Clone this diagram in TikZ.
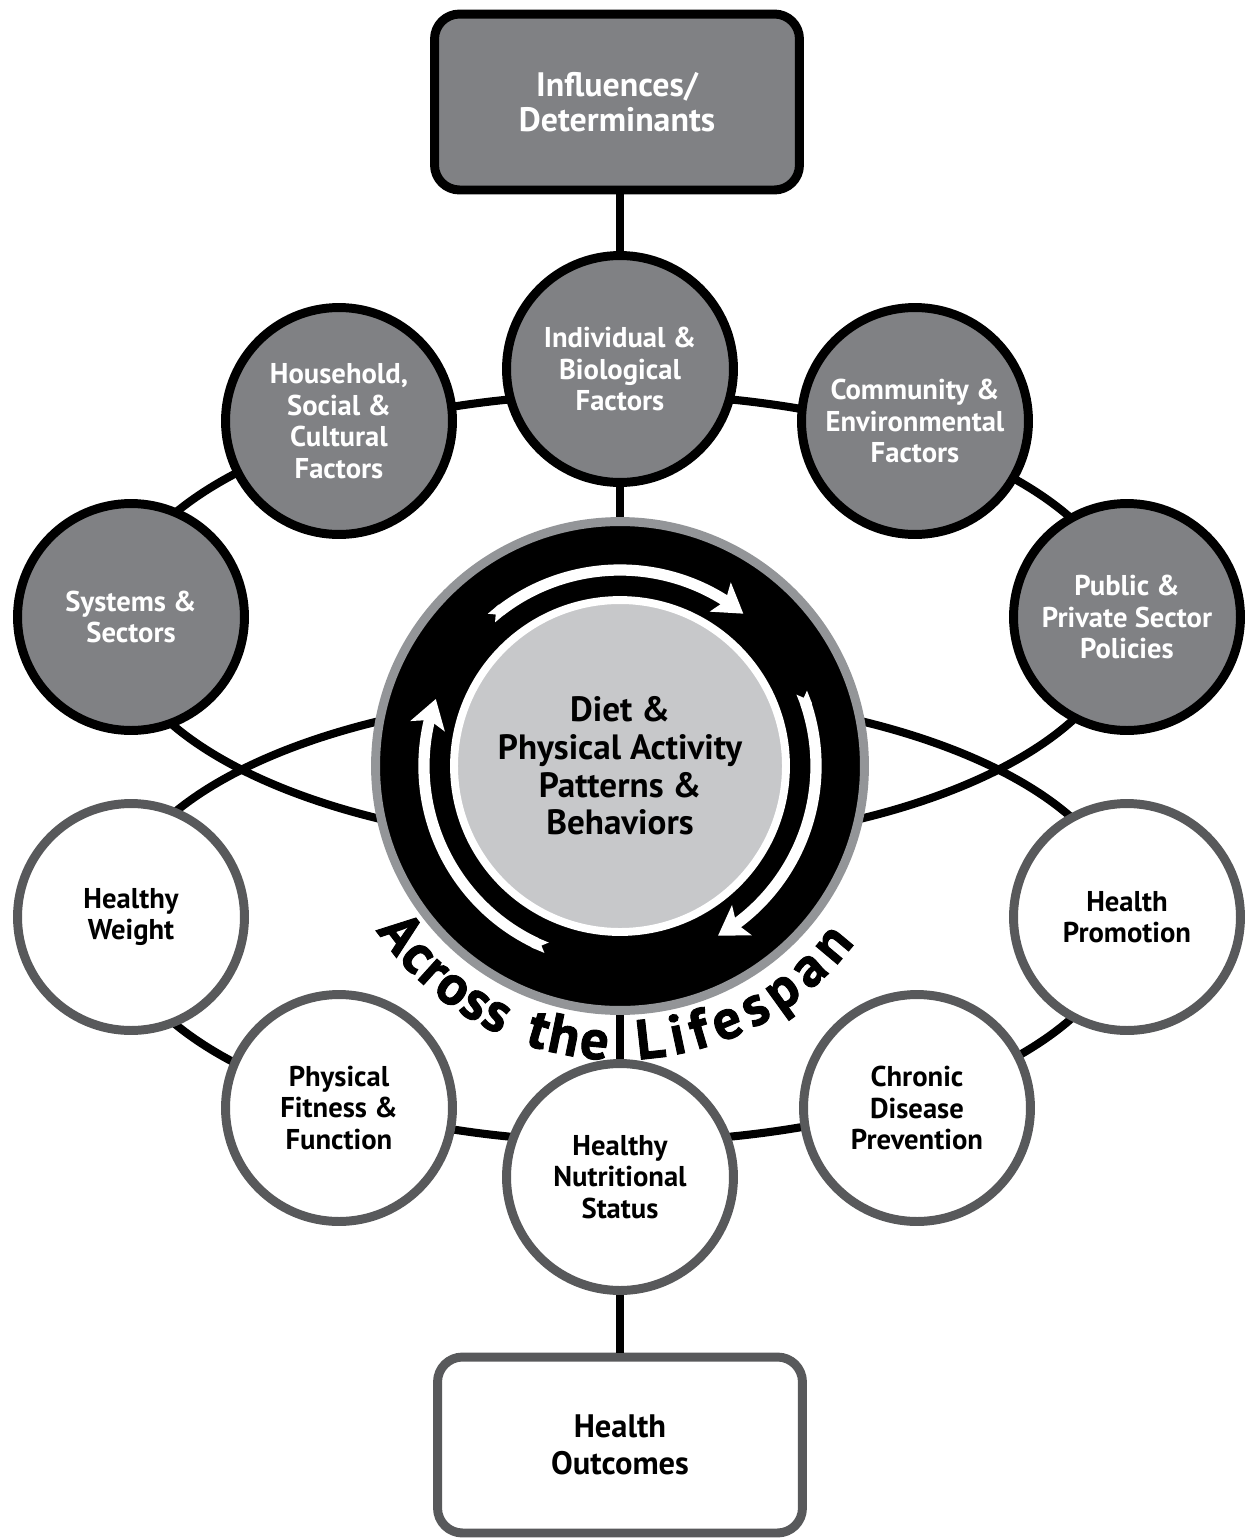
\documentclass[tikz,border=0pt]{standalone}
\usepackage{fontspec}
\setmainfont{PT Sans}
\newfontfamily\spanfamily{PT Sans}[BoldFeatures={FakeBold=1.6}]
\usetikzlibrary{arrows.meta,bending,backgrounds,decorations.text}
\definecolor{factorgray}{HTML}{808184}
\definecolor{ringgray}{HTML}{939598}
\definecolor{discgray}{HTML}{C7C8CA}
\definecolor{outcomegray}{HTML}{58595B}
\newcommand{\spanfont}{\spanfamily\bfseries\fontsize{32}{32}\selectfont}
\tikzset{
  factor/.style={circle,draw=black,fill=factorgray,line width=5.1pt,minimum size=4.54cm,inner sep=0pt,
    align=center,text=white,font=\bfseries\fontsize{16.3}{18}\selectfont},
  result/.style={circle,draw=outcomegray,fill=white,line width=5.1pt,minimum size=4.54cm,inner sep=0pt,
    align=center,font=\bfseries\fontsize{16.3}{18}\selectfont},
  headbox/.style={rectangle,rounded corners=0.5cm,line width=5.1pt,minimum width=7.3cm,minimum height=3.52cm,
    inner sep=0pt,align=center},
  link/.style={line width=4.6pt},
  cyclearrow/.style={white,line width=6.4pt,arrows={Triangle Cap[reversed]-Stealth[length=16pt,width=20pt,inset=3.5pt]}},
}
\begin{document}
\begin{tikzpicture}[x=0.02cm,y=0.02cm]
  \useasboundingbox (0,0) rectangle (1249,-1539);
  \coordinate (hub) at (620,-766);
  \coordinate (upperorbit) at (620,-620);
  \coordinate (lowerorbit) at (620,-918);

  \node[headbox,draw=black,fill=factorgray,text=white,font=\bfseries\fontsize{19.3}{20}\selectfont] (infl) at (617,-102) {Influences/\\Determinants};
  \node[factor] (indiv) at (620,-369) {Individual \&\\Biological\\Factors};
  \node[factor] (house) at (339,-421) {Household,\\Social \&\\Cultural\\Factors};
  \node[factor] (comm) at (915,-421) {Community \&\\Environmental\\Factors};
  \node[factor] (sys) at (131,-617) {Systems \&\\Sectors};
  \node[factor] (pub) at (1127,-617) {Public \&\\Private Sector\\Policies};

  \node[circle,fill=black,draw=ringgray,line width=5.1pt,minimum size=9.78cm,inner sep=0pt] (ring) at (hub) {};
  \draw[cyclearrow] (hub) ++(131:196) arc[start angle=131,end angle=51,radius=196];
  \draw[cyclearrow] (hub) ++(22:196) arc[start angle=22,end angle=-60,radius=196];
  \draw[cyclearrow] (hub) ++(248:196) arc[start angle=248,end angle=160,radius=196];
  \node[circle,fill=discgray,draw=white,line width=4.5pt,minimum size=6.64cm,inner sep=0pt,align=center,
    font=\bfseries\fontsize{20}{21.5}\selectfont] (diet) at (hub) {Diet \&\\Physical Activity\\Patterns \&\\Behaviors};

  \node[result] (hw) at (131,-917) {Healthy\\Weight};
  \node[result] (hp) at (1127,-917) {Health\\Promotion};
  \node[result] (pf) at (339,-1108) {Physical\\Fitness \&\\Function};
  \node[result] (cd) at (917,-1108) {Chronic\\Disease\\Prevention};
  \node[result] (nutri) at (620,-1177) {Healthy\\Nutritional\\Status};
  \node[headbox,draw=outcomegray,fill=white,font=\bfseries\fontsize{18.5}{21}\selectfont] (outc) at (620,-1445) {Health\\Outcomes};

  \begin{scope}[on background layer]
    \draw[link] (upperorbit) ellipse [x radius=505,y radius=226];
    \draw[link] (lowerorbit) ellipse [x radius=505,y radius=224];
  \end{scope}
  \draw[link] (infl.south -| indiv) -- (indiv);
  \draw[link] (indiv) -- (ring);
  \draw[link] (ring) -- (nutri);
  \draw[link] (nutri) -- (outc);

  \path[decorate,decoration={text along path,text={|\spanfont|Across},text align=fit to path}]
    (hub) ++(214:294) arc[start angle=214,end angle=246,radius=294];
  \path[decorate,decoration={text along path,text={|\spanfont|the},text align=fit to path}]
    (hub) ++(251:294) arc[start angle=251,end angle=267.5,radius=294];
  \path[decorate,decoration={text along path,text={|\spanfont|Lifespan},text align=fit to path}]
    (hub) ++(273.5:294) arc[start angle=273.5,end angle=323,radius=294];
\end{tikzpicture}
\end{document}
